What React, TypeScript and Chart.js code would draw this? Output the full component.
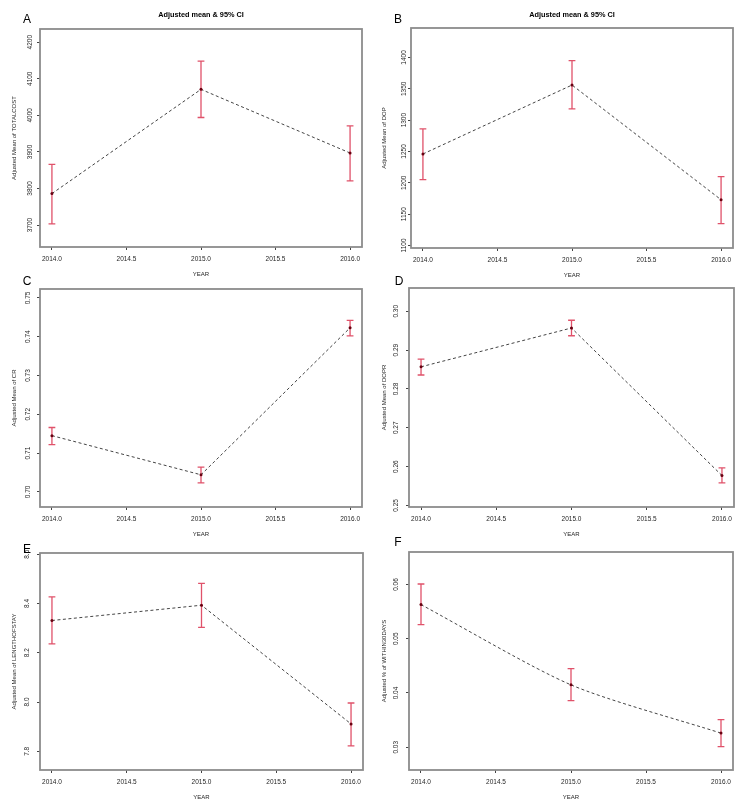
import React, { useEffect, useRef } from "react";
import { Chart, registerables } from "chart.js";

Chart.register(...registerables);

// ---------- data ----------
const YEARS = [2014, 2015, 2016];
const X_TICKS = [2014.0, 2014.5, 2015.0, 2015.5, 2016.0];
const X_MIN = 2013.92;
const X_MAX = 2016.08;

const TOTALCOST_MEAN = [3786, 4071, 3897];
const TOTALCOST_LOWER = [3703, 3994, 3821];
const TOTALCOST_UPPER = [3866, 4148, 3971];
const TOTALCOST_TICKS = [3700, 3800, 3900, 4000, 4100, 4200];
const TOTALCOST_TICK_LABELS = ["3700", "3800", "3900", "4000", "4100", "4200"];

const DOP_MEAN = [1246, 1356, 1173];
const DOP_LOWER = [1205, 1318, 1135];
const DOP_UPPER = [1286, 1395, 1210];
const DOP_TICKS = [1100, 1150, 1200, 1250, 1300, 1350, 1400];
const DOP_TICK_LABELS = ["1100", "1150", "1200", "1250", "1300", "1350", "1400"];

const CR_MEAN = [0.7145, 0.7044, 0.7423];
const CR_LOWER = [0.7122, 0.7023, 0.7402];
const CR_UPPER = [0.7166, 0.7064, 0.7442];
const CR_TICKS = [0.7, 0.71, 0.72, 0.73, 0.74, 0.75];
const CR_TICK_LABELS = ["0.70", "0.71", "0.72", "0.73", "0.74", "0.75"];

const DOPR_MEAN = [0.2857, 0.2957, 0.2577];
const DOPR_LOWER = [0.2836, 0.2937, 0.2558];
const DOPR_UPPER = [0.2877, 0.2977, 0.2597];
const DOPR_TICKS = [0.25, 0.26, 0.27, 0.28, 0.29, 0.3];
const DOPR_TICK_LABELS = ["0.25", "0.26", "0.27", "0.28", "0.29", "0.30"];

const LOS_MEAN = [8.331, 8.393, 7.911];
const LOS_LOWER = [8.236, 8.303, 7.822];
const LOS_UPPER = [8.427, 8.482, 7.996];
const LOS_TICKS = [7.8, 8.0, 8.2, 8.4, 8.6];
const LOS_TICK_LABELS = ["7.8", "8.0", "8.2", "8.4", "8.6"];

const W30_MEAN = [0.0563, 0.0415, 0.0326];
const W30_LOWER = [0.0526, 0.0386, 0.0301];
const W30_UPPER = [0.0601, 0.0445, 0.0351];
const W30_TICKS = [0.03, 0.04, 0.05, 0.06];
const W30_TICK_LABELS = ["0.03", "0.04", "0.05", "0.06"];

const MAIN_TITLE = "Adjusted mean & 95% CI";
const X_TITLE = "YEAR";

// ---------- style / layout ----------
const FONT = "'Liberation Sans', Arial, Helvetica, sans-serif";
const BAR_COLOR = "#e0526a";
const LINE_COLOR = "#444444";
const POINT_COLOR = "#6a0010";
const BOX_COLOR = "#8c8c8c";
const TEXT_COLOR = "#262626";
const X_AXIS_H = 34;

type Rect = { left: number; top: number; width: number; height: number };
type Box = { l: number; t: number; r: number; b: number };

type Panel = {
  letter: string;
  title?: string;
  yTitle: string;
  mean: number[];
  lower: number[];
  upper: number[];
  yTicks: number[];
  yTickLabels: string[];
  yMin: number;
  yMax: number;
  tension: number;
  canvas: Rect;
  box: Box;
  letterAt: [number, number];
  yLabelOffset: number;
};

const LEFT_COL = { left: 0, width: 372 };
const RIGHT_COL = { left: 372, width: 371 };

const PANELS: Panel[] = [
  {
    letter: "A", title: MAIN_TITLE, yTitle: "Adjusted Mean of TOTALCOST",
    mean: TOTALCOST_MEAN, lower: TOTALCOST_LOWER, upper: TOTALCOST_UPPER,
    yTicks: TOTALCOST_TICKS, yTickLabels: TOTALCOST_TICK_LABELS, yMin: 3640, yMax: 4236,
    tension: 0,
    canvas: { ...LEFT_COL, top: 0, height: 282 }, box: { l: 40, t: 29, r: 362, b: 247 },
    letterAt: [27, 19], yLabelOffset: 10,
  },
  {
    letter: "B", title: MAIN_TITLE, yTitle: "Adjusted Mean of DOP",
    mean: DOP_MEAN, lower: DOP_LOWER, upper: DOP_UPPER,
    yTicks: DOP_TICKS, yTickLabels: DOP_TICK_LABELS, yMin: 1096, yMax: 1447,
    tension: 0,
    canvas: { ...RIGHT_COL, top: 0, height: 282 }, box: { l: 411, t: 28, r: 733, b: 248 },
    letterAt: [398, 19], yLabelOffset: 7,
  },
  {
    letter: "C", yTitle: "Adjusted Mean of CR",
    mean: CR_MEAN, lower: CR_LOWER, upper: CR_UPPER,
    yTicks: CR_TICKS, yTickLabels: CR_TICK_LABELS, yMin: 0.6961, yMax: 0.7523,
    tension: 0,
    canvas: { ...LEFT_COL, top: 262, height: 282 }, box: { l: 40, t: 289, r: 362, b: 507 },
    letterAt: [27, 281], yLabelOffset: 12,
  },
  {
    letter: "D", yTitle: "Adjusted Mean of DOPR",
    mean: DOPR_MEAN, lower: DOPR_LOWER, upper: DOPR_UPPER,
    yTicks: DOPR_TICKS, yTickLabels: DOPR_TICK_LABELS, yMin: 0.2496, yMax: 0.306,
    tension: 0,
    canvas: { ...RIGHT_COL, top: 262, height: 282 }, box: { l: 409, t: 288, r: 734, b: 507 },
    letterAt: [399, 281], yLabelOffset: 13,
  },
  {
    letter: "E", yTitle: "Adjusted Mean of LENGTHOFSTAY",
    mean: LOS_MEAN, lower: LOS_LOWER, upper: LOS_UPPER,
    yTicks: LOS_TICKS, yTickLabels: LOS_TICK_LABELS, yMin: 7.724, yMax: 8.605,
    tension: 0,
    canvas: { ...LEFT_COL, top: 530, height: 280 }, box: { l: 40, t: 553, r: 363, b: 770 },
    letterAt: [27, 549], yLabelOffset: 13,
  },
  {
    letter: "F", yTitle: "Adjusted % of WITHIN30DAYS",
    mean: W30_MEAN, lower: W30_LOWER, upper: W30_UPPER,
    yTicks: W30_TICKS, yTickLabels: W30_TICK_LABELS, yMin: 0.0258, yMax: 0.066,
    tension: 0.25,
    canvas: { ...RIGHT_COL, top: 530, height: 280 }, box: { l: 409, t: 552, r: 733, b: 770 },
    letterAt: [398, 542], yLabelOffset: 13,
  },
];

function PanelChart({ p }: { p: Panel }) {
  const ref = useRef<HTMLCanvasElement | null>(null);

  useEffect(() => {
    const canvas = ref.current;
    if (!canvas) return;
    const c = p.canvas;
    const b = p.box;
    const titleFontSize = 7.3;
    const titleLH = titleFontSize * 1.2;
    const titlePadTop = 14.8 - titleLH / 2;
    const titlePadBottom = b.t - c.top - titlePadTop - titleLH;
    const yTitleCenter = (c.left === 0 ? 14 : 384) - c.left;

    const decor = {
      id: "decor",
      beforeDatasetsDraw(chart: any) {
        const ctx = chart.ctx;
        const xs = chart.scales.x;
        const ys = chart.scales.y;
        ctx.save();
        ctx.strokeStyle = BAR_COLOR;
        ctx.lineWidth = 1.3;
        const cap = 3.4;
        YEARS.forEach((yr, i) => {
          const x = xs.getPixelForValue(yr);
          const y1 = ys.getPixelForValue(p.lower[i]);
          const y2 = ys.getPixelForValue(p.upper[i]);
          ctx.beginPath();
          ctx.moveTo(x, y1);
          ctx.lineTo(x, y2);
          ctx.moveTo(x - cap, y1);
          ctx.lineTo(x + cap, y1);
          ctx.moveTo(x - cap, y2);
          ctx.lineTo(x + cap, y2);
          ctx.stroke();
        });
        ctx.restore();
      },
      afterDraw(chart: any) {
        const ctx = chart.ctx;
        const a = chart.chartArea;
        const ys = chart.scales.y;
        ctx.save();
        // box
        ctx.strokeStyle = BOX_COLOR;
        ctx.lineWidth = 1.8;
        ctx.strokeRect(a.left, a.top, a.right - a.left, a.bottom - a.top);
        // rotated y tick labels
        ctx.fillStyle = TEXT_COLOR;
        ctx.font = `6.5px ${FONT}`;
        ctx.textAlign = "center";
        ctx.textBaseline = "middle";
        p.yTicks.forEach((v, i) => {
          const y = ys.getPixelForValue(v);
          ctx.save();
          ctx.translate(a.left - p.yLabelOffset, y);
          ctx.rotate(-Math.PI / 2);
          ctx.fillText(p.yTickLabels[i], 0, 0);
          ctx.restore();
        });
        // panel letter
        ctx.fillStyle = "#000";
        ctx.font = `12px ${FONT}`;
        ctx.textAlign = "center";
        ctx.textBaseline = "alphabetic";
        ctx.fillText(p.letter, p.letterAt[0] - c.left, p.letterAt[1] - c.top + 4.3);
        ctx.restore();
      },
    };

    const chart = new Chart(canvas, {
      type: "line",
      data: {
        datasets: [
          {
            data: YEARS.map((yr, i) => ({ x: yr, y: p.mean[i] })),
            borderColor: LINE_COLOR,
            borderWidth: 1,
            borderDash: [3, 2.5],
            tension: p.tension,
            pointRadius: 1.5,
            pointBackgroundColor: POINT_COLOR,
            pointBorderColor: POINT_COLOR,
            pointBorderWidth: 0,
            fill: false,
          },
        ],
      },
      options: {
        animation: false,
        responsive: false,
        devicePixelRatio: 1,
        events: [],
        layout: {
          padding: {
            left: 0,
            right: c.left + c.width - b.r,
            top: p.title ? 0 : b.t - c.top,
            bottom: c.top + c.height - b.b - X_AXIS_H,
          },
        },
        plugins: {
          legend: { display: false },
          tooltip: { enabled: false },
          title: p.title
            ? {
                display: true,
                text: p.title,
                fullSize: false,
                color: "#000",
                font: { family: FONT, size: titleFontSize, weight: "bold", lineHeight: 1.2 },
                padding: { top: titlePadTop, bottom: titlePadBottom },
              }
            : { display: false },
        },
        scales: {
          x: {
            type: "linear",
            min: X_MIN,
            max: X_MAX,
            afterBuildTicks: (s: any) => {
              s.ticks = X_TICKS.map((v) => ({ value: v }));
            },
            afterFit: (s: any) => {
              s.height = X_AXIS_H;
            },
            grid: {
              display: true,
              drawOnChartArea: false,
              drawTicks: true,
              tickLength: 3,
              color: "#444",
              lineWidth: 1,
            },
            border: { display: false },
            ticks: {
              color: TEXT_COLOR,
              font: { family: FONT, size: 6.5, lineHeight: 1.2 },
              padding: 5.1,
              maxRotation: 0,
              minRotation: 0,
              autoSkip: false,
              callback: (v: any) => Number(v).toFixed(1),
            },
            title: {
              display: true,
              text: X_TITLE,
              color: TEXT_COLOR,
              font: { family: FONT, size: 6, lineHeight: 1.2 },
              padding: { top: 0, bottom: 3.4 },
            },
          },
          y: {
            type: "linear",
            min: p.yMin,
            max: p.yMax,
            afterBuildTicks: (s: any) => {
              s.ticks = p.yTicks.map((v) => ({ value: v }));
            },
            afterFit: (s: any) => {
              s.width = b.l - c.left;
            },
            grid: {
              display: true,
              drawOnChartArea: false,
              drawTicks: true,
              tickLength: 3,
              color: "#444",
              lineWidth: 1,
            },
            border: { display: false },
            ticks: { display: false },
            title: {
              display: true,
              text: p.yTitle,
              color: TEXT_COLOR,
              font: { family: FONT, size: 6, lineHeight: 1.2 },
              padding: { top: yTitleCenter - 3.6, bottom: 0 },
            },
          },
        },
      },
      plugins: [decor],
    } as any);

    return () => chart.destroy();
  }, [p]);

  return (
    <canvas
      ref={ref}
      width={p.canvas.width}
      height={p.canvas.height}
      style={{
        position: "absolute",
        left: p.canvas.left,
        top: p.canvas.top,
        width: p.canvas.width,
        height: p.canvas.height,
      }}
    />
  );
}

export default function App() {
  return (
    <div
      style={{
        position: "absolute",
        left: 0,
        top: 0,
        width: 743,
        height: 810,
        background: "#ffffff",
        overflow: "hidden",
      }}
    >
      {PANELS.map((p) => (
        <PanelChart key={p.letter} p={p} />
      ))}
    </div>
  );
}
